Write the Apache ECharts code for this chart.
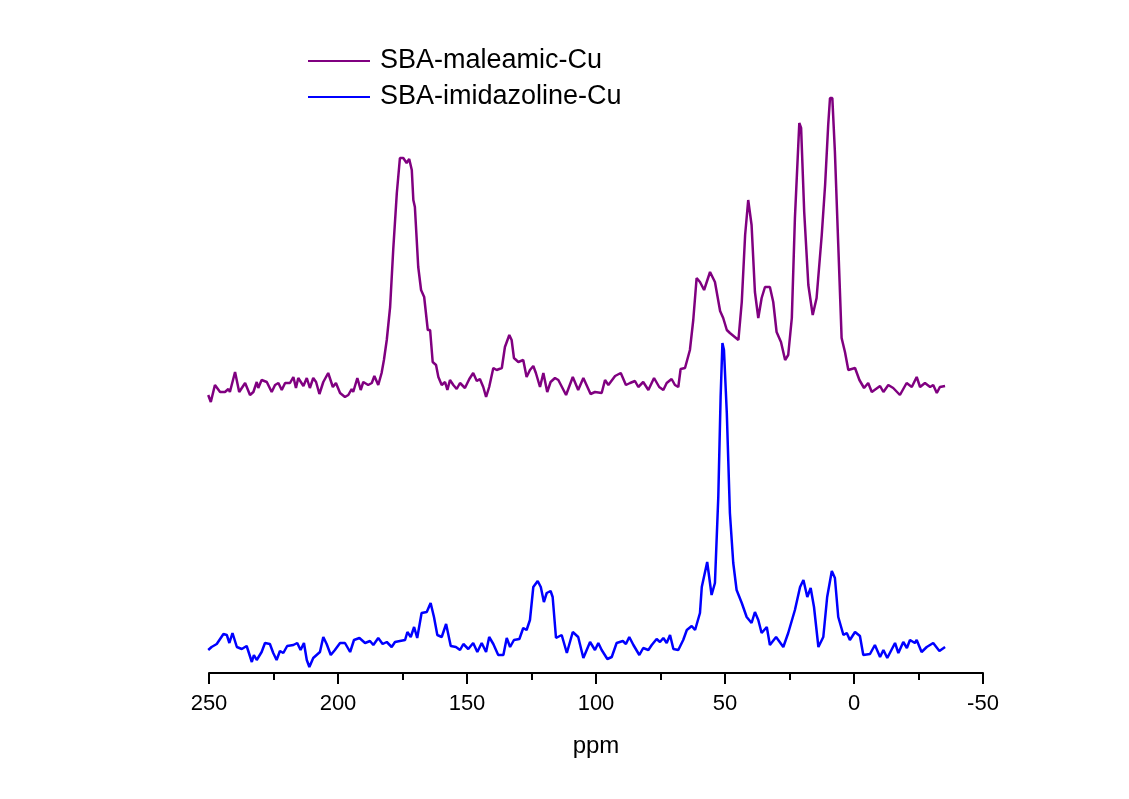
<!DOCTYPE html>
<html>
<head>
<meta charset="utf-8">
<script src="https://cdn.jsdelivr.net/npm/echarts@6/dist/echarts.min.js"></script>
<style>html,body{margin:0;padding:0;background:#fff}#c{width:1129px;height:799px}</style>
</head>
<body>
<div id="c"></div>
<script>
const seriesNames = ['SBA-maleamic-Cu', 'SBA-imidazoline-Cu'];
const xAxisName = 'ppm';

const maleamicPpm = [250.3,249.3,247.7,245.7,243.8,242.5,241.9,239.9,238.3,236.0,234.1,232.8,231.5,230.9,229.6,227.6,225.7,224.4,223.1,221.8,220.5,218.6,217.3,216.3,215.4,213.4,212.1,210.9,209.6,208.5,207.2,205.7,203.8,202.0,200.8,199.2,197.3,196.0,194.7,194.1,192.5,191.2,190.2,188.3,186.9,185.9,184.4,183.1,182.2,181.1,179.8,178.6,177.2,176.0,174.7,173.4,172.4,171.4,170.8,170.2,168.9,167.8,166.6,165.2,164.3,163.3,162.0,161.1,159.8,158.5,157.6,156.6,155.3,154.0,152.7,150.8,149.1,147.6,146.2,145.0,143.7,142.6,141.4,139.8,138.5,136.5,135.3,133.6,132.7,131.8,130.1,128.2,126.9,125.6,124.3,123.3,121.7,120.4,118.9,117.6,115.9,114.6,111.6,109.0,106.9,104.9,102.1,100.4,97.8,96.5,95.2,92.6,90.4,88.4,86.8,84.9,83.6,81.7,79.7,77.5,75.5,73.9,72.6,70.7,69.4,68.1,67.2,65.5,63.6,62.3,61.0,59.7,58.1,55.8,53.9,51.9,50.7,49.3,48.1,44.8,43.5,42.2,41.0,39.7,38.4,37.1,35.8,34.5,32.6,31.3,30.0,28.3,26.7,25.5,24.1,22.9,21.2,20.5,19.3,17.7,16.0,14.5,12.5,11.2,10.0,9.3,8.4,7.4,6.1,4.8,3.5,2.2,-0.4,-2.1,-3.9,-5.5,-6.9,-10.1,-11.4,-13.3,-15.2,-17.8,-20.4,-22.4,-24.3,-25.6,-27.5,-29.5,-30.7,-32.1,-33.3,-35.3];
const maleamicInt = [278,271,288,281,281,284,281,301,281,290,278,281,291,285,293,291,281,288,290,283,290,290,296,285,295,287,295,285,295,291,279,291,300,286,290,280,276,278,284,281,295,283,291,288,290,297,288,300,313,333,366,423,480,515,515,510,514,503,473,466,406,383,376,343,343,311,308,296,288,291,283,293,288,284,290,285,294,300,292,294,286,276,286,305,303,305,326,338,333,315,311,313,296,303,307,300,286,300,281,291,295,293,278,296,283,295,279,281,280,293,288,297,300,288,290,292,286,291,283,295,286,283,290,294,288,286,304,305,323,353,395,391,383,401,391,362,355,343,340,333,371,438,473,448,381,355,375,386,386,371,341,331,313,318,355,455,550,545,461,388,358,375,438,488,548,575,575,521,428,335,321,303,305,293,285,290,281,287,281,288,285,278,290,286,296,286,290,286,288,280,286,287];

const imidazolinePpm = [250.3,249.0,247.0,244.4,243.1,242.1,240.9,239.2,237.3,235.4,233.4,232.6,231.5,229.6,228.3,226.4,225.1,223.8,222.5,221.2,219.7,217.3,215.8,214.5,213.2,212.1,211.1,209.6,208.3,207.0,205.7,204.4,202.8,201.2,199.2,197.3,195.3,193.8,191.7,189.5,187.6,186.3,184.4,182.7,181.1,179.2,177.9,176.0,174.0,173.1,171.8,170.5,169.3,167.6,165.6,164.1,162.8,161.5,159.8,158.1,156.3,154.3,152.7,151.4,149.5,147.6,146.0,144.3,142.6,141.4,139.8,137.9,135.9,134.6,133.3,131.8,129.7,128.2,126.9,125.6,124.3,122.6,121.4,120.2,119.1,117.6,116.8,115.5,113.3,111.3,109.0,106.9,104.9,102.3,100.4,99.1,97.8,95.6,93.9,92.0,89.6,88.4,87.1,85.5,83.2,81.7,79.7,78.4,76.5,75.2,73.9,72.6,71.3,70.0,68.1,66.2,64.8,62.9,61.6,59.7,59.0,56.9,55.2,53.9,52.6,51.7,51.0,50.4,49.3,48.1,46.8,45.5,43.5,41.6,39.7,38.4,37.1,35.8,33.8,32.6,30.2,27.4,25.5,22.9,20.9,19.6,18.1,16.8,15.5,13.8,11.9,10.4,8.6,7.4,6.1,4.1,2.8,1.6,-0.4,-2.3,-3.6,-6.2,-8.1,-10.1,-11.4,-12.9,-15.9,-17.2,-19.1,-20.5,-21.7,-23.6,-24.3,-26.2,-28.2,-30.7,-33.1,-35.3];
const imidazolineInt = [23,26,29,39,38,30,40,26,24,27,11,18,13,21,30,29,20,13,22,20,27,28,30,23,30,13,6,15,18,21,36,29,18,23,30,30,21,33,35,30,32,28,35,29,31,26,31,32,33,41,36,46,35,60,61,70,56,38,36,49,27,26,23,29,24,30,21,30,21,36,29,18,18,35,26,33,34,45,43,53,86,92,86,71,80,82,76,35,38,20,41,36,15,31,23,30,23,14,16,30,32,29,36,28,18,25,23,28,34,31,35,30,38,24,23,33,43,47,43,60,86,111,78,90,176,276,330,323,260,160,110,83,70,56,50,61,53,40,46,28,36,26,40,63,86,93,76,85,66,26,36,76,102,95,56,38,40,33,41,37,18,19,28,16,23,15,30,20,31,25,33,30,33,21,26,30,22,26];

function pairs(xs, ys) { return xs.map((x, i) => [x, ys[i]]); }

const chart = echarts.init(document.getElementById('c'), null, { renderer: 'canvas' });
chart.setOption({
  backgroundColor: '#ffffff',
  animation: false,
  grid: { left: 209, right: 146, top: 73, bottom: 126, containLabel: false },
  legend: {
    orient: 'vertical',
    left: 303,
    top: 41,
    itemWidth: 62,
    itemHeight: 2,
    itemGap: 6,
    icon: 'rect',
    textStyle: { fontFamily: 'Arial, "Liberation Sans", sans-serif', fontSize: 27, lineHeight: 30, color: '#000', padding: [0, 0, 0, 5] },
    data: seriesNames
  },
  xAxis: {
    type: 'value',
    inverse: true,
    min: -50,
    max: 250,
    interval: 50,
    name: xAxisName,
    nameLocation: 'middle',
    nameGap: 61,
    nameTextStyle: { fontFamily: 'Arial, "Liberation Sans", sans-serif', fontSize: 24, color: '#000' },
    axisLine: { show: true, onZero: false, lineStyle: { color: '#000', width: 2 } },
    axisTick: { show: true, inside: false, length: 11, lineStyle: { color: '#000', width: 2 } },
    minorTick: { show: true, splitNumber: 2, length: 7, lineStyle: { color: '#000', width: 2 } },
    axisLabel: { margin: 20, fontFamily: 'Arial, "Liberation Sans", sans-serif', fontSize: 22, color: '#000' },
    splitLine: { show: false },
    minorSplitLine: { show: false }
  },
  yAxis: {
    type: 'value',
    min: 0,
    max: 600,
    show: false
  },
  series: [
    {
      name: seriesNames[0],
      type: 'line',
      data: pairs(maleamicPpm, maleamicInt),
      showSymbol: false,
      symbol: 'none',
      lineStyle: { color: '#800080', width: 2.5 },
      itemStyle: { color: '#800080' }
    },
    {
      name: seriesNames[1],
      type: 'line',
      data: pairs(imidazolinePpm, imidazolineInt),
      showSymbol: false,
      symbol: 'none',
      lineStyle: { color: '#0000ff', width: 2.5 },
      itemStyle: { color: '#0000ff' }
    }
  ]
});
</script>
</body>
</html>
